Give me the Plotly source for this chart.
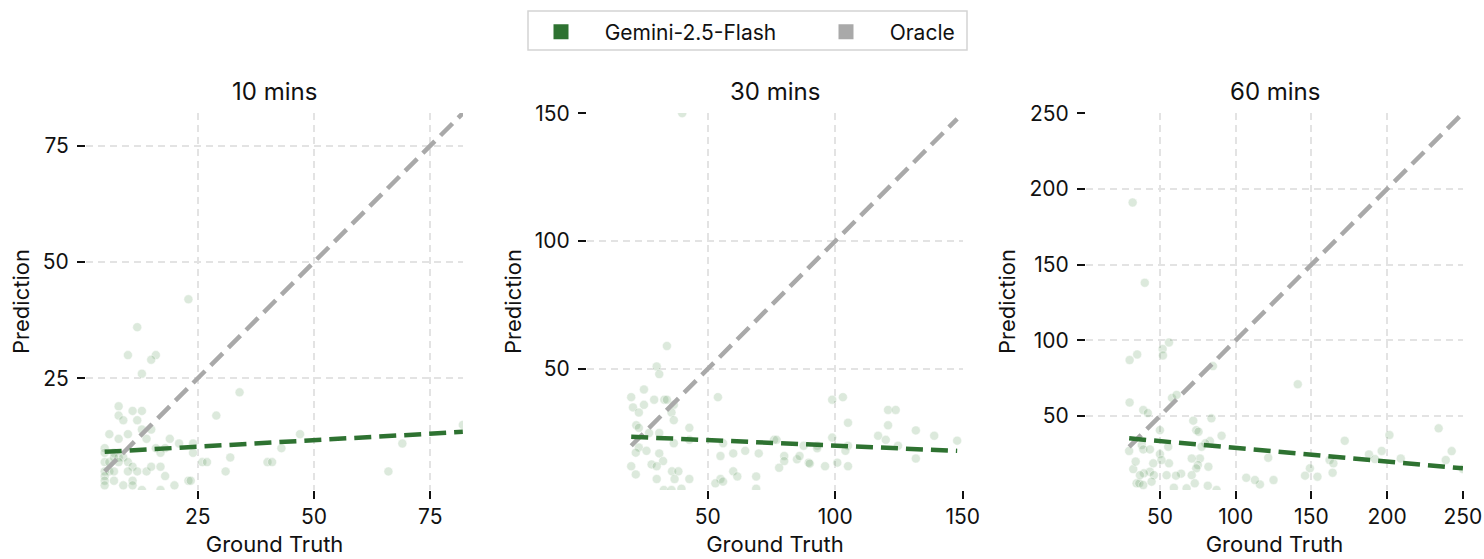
import numpy as np
import plotly.graph_objects as go

# ---------------- data ----------------
panel_titles = ["10 mins", "30 mins", "60 mins"]
series_names = ["Gemini-2.5-Flash", "Oracle"]

gt_10 = [23, 12, 10, 16, 15, 13, 34, 8, 11, 13, 8, 9, 12, 29, 6, 10, 8, 13, 15, 14,
         19, 21, 24, 18, 16, 47, 69, 82, 43, 24, 32, 17, 5, 5, 7, 5, 6, 8, 9, 10,
         11, 10, 5, 6, 7, 12, 14, 15, 17, 26, 27, 40, 41, 31, 66, 18, 5, 5, 7, 5,
         9, 11, 11, 13, 17, 20, 23, 23.5, 7, 8]
pred_10 = [42, 36, 30, 30, 29, 26, 22, 19, 18, 18, 17, 16, 16, 17, 13, 13, 12, 14, 14, 12,
           12, 11, 11, 10, 10, 13, 11, 15, 10, 9, 8, 9, 10, 9, 9, 7, 7, 8, 8, 7,
           6, 5, 5, 5, 5, 5, 5, 6, 6, 7, 7, 7, 7, 5, 5, 4, 4, 3, 3, 2,
           2, 3, 2, 1, 1, 2, 3, 3, 8, 7]

gt_30 = [40, 34, 30, 31, 25, 20, 20.7, 23, 25, 29, 33, 34, 36.7, 35.8, 36.7, 54, 22, 23, 42.8, 42.8,
         27, 31, 23, 21.8, 26, 31, 36.7, 32.5, 28, 20, 30, 21.8, 30, 36, 38.5, 37, 42.8, 32.8, 35.8, 39.7,
         55, 60, 64.7, 56, 70, 76, 77, 80, 80, 78, 85, 86, 89.6, 87.6, 93, 96, 98.8, 98.8, 103, 105,
         105, 104, 100.8, 105, 116.8, 119.8, 120.7, 120.7, 123.7, 124.6, 131.6, 131.6, 138.8, 147.8,
         60, 61.6, 55, 53, 56, 69, 69, 90, 92.9]
pred_30 = [150, 59, 51, 48, 42, 39, 35, 33, 36, 38, 38, 38, 36, 33, 30, 39, 28, 27, 27, 22.3,
           25, 25, 19.3, 17.3, 18, 17, 21, 14, 12.7, 12, 12, 8.8, 7, 10, 10, 7, 7, 2.7, 2.7, 3.2,
           16, 17, 18, 21, 17, 22.3, 22.3, 16, 14, 11.4, 14.7, 16, 13.4, 20, 20, 12, 23.2, 38, 39, 29,
           20, 18, 13.4, 12, 23.9, 22.3, 28, 34, 34, 20, 26, 15, 23.9, 22,
           10, 8, 7, 5.3, 6, 8, 3.2, 13, 19]

gt_60 = [32, 40, 56, 51.8, 52, 35, 30, 85, 141, 30, 58, 61, 39, 42, 84, 72, 74, 75.5, 90.7, 50,
         234, 201.5, 172, 242.6, 238.7, 196.4, 188, 209, 162, 164.5, 164, 149, 145.8, 154, 121.5, 125, 116, 112.7, 107, 83,
         80, 77.5, 76.4, 75, 82, 74, 71, 71, 73, 81.6, 64, 60.6, 67.6, 87.4, 59.2, 55.5, 56, 54.4, 50, 51,
         45.6, 43.4, 46, 39.4, 34.6, 36.4, 39, 44.5, 32.4, 34, 29.7, 38, 39, 43.4, 36.8, 192, 250]
pred_60 = [191, 138, 98.6, 94.3, 90, 90.7, 87, 83, 71, 59, 62, 64, 54, 52, 48.5, 47, 40.7, 39.7, 37, 40.7,
           41.9, 37.5, 33.7, 26.9, 21, 27, 24.7, 22, 21, 18.8, 12.6, 15.5, 10.7, 10, 22.5, 7.8, 4.9, 7.8, 9.3, 33.5,
           32, 29.8, 22, 17.7, 16.6, 15.5, 22, 11, 5.6, 4, 12, 10.7, 2.3, 1.2, 2.7, 29.8, 18.8, 11, 24.9, 21,
           18.8, 13.3, 11, 12.2, 5.6, 5.6, 4.5, 6.7, 15, 20, 27, 30.9, 28, 28, 11, 21.6, 15]

# fitted trend (prediction at min / max ground truth)
trend_10 = [9.2, 13.5]
trend_30 = [23.5, 18.0]
trend_60 = [35.3, 15.5]

tick_steps = [25, 50, 50]

panels = [
    (gt_10, pred_10, trend_10),
    (gt_30, pred_30, trend_30),
    (gt_60, pred_60, trend_60),
]

# ---------------- styles ----------------
GREEN = "#2e7231"
GRAY = "#a9a9a9"
FONT = "Inter"
W, H = 1484, 559

x_domains = [[0.0580, 0.3120], [0.3956, 0.6489], [0.7318, 0.9859]]
y_domain = [0.1234, 0.7979]

fig = go.Figure()

for i, (gt, pred, trend) in enumerate(panels):
    ax = "" if i == 0 else str(i + 1)
    xr = "x" + ax
    yr = "y" + ax
    gt_a = np.array(gt, dtype=float)
    pr_a = np.array(pred, dtype=float)
    gmin, gmax = gt_a.min(), gt_a.max()

    fig.add_trace(go.Scatter(
        x=gt_a, y=pr_a, mode="markers", xaxis=xr, yaxis=yr, showlegend=False,
        marker=dict(size=9, color="rgba(46,125,50,0.17)",
                    line=dict(color="rgba(255,255,255,0.8)", width=0.6)),
        cliponaxis=True,
    ))
    # oracle y = x
    fig.add_trace(go.Scatter(
        x=[gmin, gmax], y=[gmin, gmax], mode="lines", xaxis=xr, yaxis=yr, showlegend=False,
        line=dict(color=GRAY, width=4.5, dash="17px,8px"),
    ))
    # fitted trend
    fig.add_trace(go.Scatter(
        x=[gmin, gmax], y=trend, mode="lines", xaxis=xr, yaxis=yr, showlegend=False,
        line=dict(color=GREEN, width=4.5, dash="17px,8px"),
    ))

    lo = min(gt_a.min(), pr_a.min())
    hi = max(gt_a.max(), pr_a.max())
    common = dict(
        showline=False, zeroline=False, showgrid=True, automargin=False,
        gridcolor="#e3e3e3", gridwidth=1.5, griddash="7px,5px",
        ticks="outside", ticklen=8, tickwidth=1.6, tickcolor="#111",
        tickfont=dict(family=FONT, size=21, color="#111"),
        dtick=tick_steps[i], tick0=0, range=[lo, hi + 0.0005 * (hi - lo)],
    )
    fig.layout["xaxis" + ax] = dict(
        common, domain=x_domains[i], anchor=yr,
        title=dict(text="Ground Truth", font=dict(family=FONT, size=22, color="#111"), standoff=8),
    )
    fig.layout["yaxis" + ax] = dict(
        common, domain=y_domain, anchor=xr, ticklabelstandoff=4,
        title=dict(text="Prediction", font=dict(family=FONT, size=22, color="#111"), standoff=7),
    )
    fig.add_annotation(
        text=panel_titles[i], xref="paper", yref="paper",
        x=(x_domains[i][0] + x_domains[i][1]) / 2, y=1 - 91 / H,
        xanchor="center", yanchor="middle", showarrow=False,
        font=dict(family=FONT, size=24, color="#111"),
    )

# legend entries
pad = "\u00a0" * 4
for name, col in zip(series_names, [GREEN, GRAY]):
    fig.add_trace(go.Scatter(
        x=[None], y=[None], mode="markers", name=pad + name,
        marker=dict(symbol="square", size=15, color=col),
    ))

# legend frame
fig.add_shape(
    type="rect", xref="paper", yref="paper",
    x0=528 / W, x1=967 / W, y0=1 - 50 / H, y1=1 - 11 / H,
    line=dict(color="#d4d4d4", width=1.5), fillcolor="rgba(0,0,0,0)", layer="above",
)

fig.update_layout(
    width=W, height=H,
    margin=dict(l=0, r=0, t=0, b=0, autoexpand=False),
    paper_bgcolor="white", plot_bgcolor="white",
    font=dict(family=FONT, size=20, color="#111"),
    legend=dict(
        orientation="h", x=541 / W, xanchor="left", y=1 - 11.5 / H, yanchor="top",
        borderwidth=0, bgcolor="rgba(0,0,0,0)",
        font=dict(family=FONT, size=21, color="#111"),
        entrywidth=240, itemwidth=30,
    ),
)

fig.write_html("out.html")
